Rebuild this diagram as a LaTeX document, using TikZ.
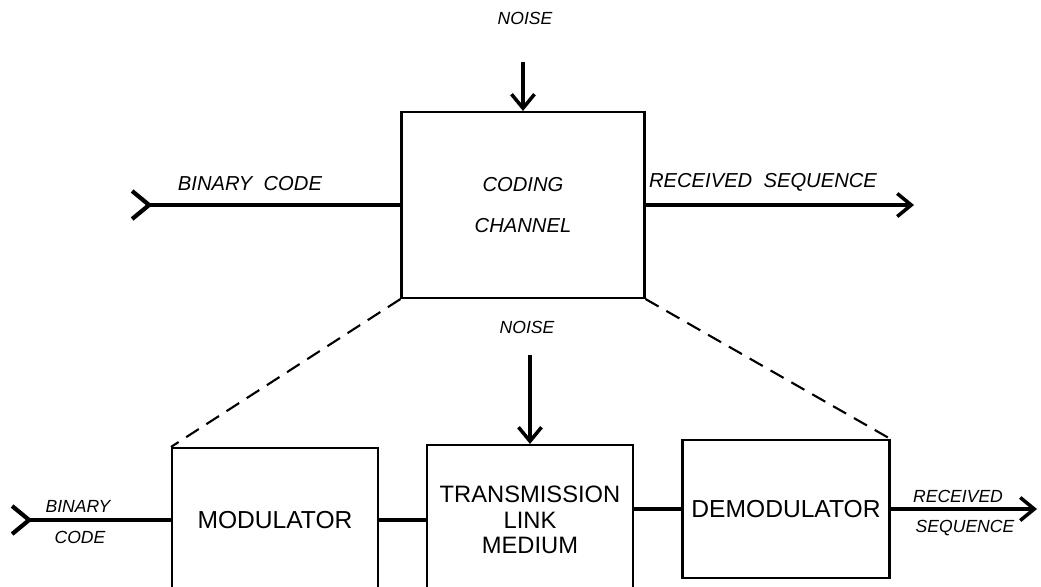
\documentclass[tikz,border=0pt]{standalone}
\usepackage{fontspec}
\setsansfont{Liberation Sans}
\usetikzlibrary{arrows.meta, positioning}

\begin{document}
\begin{tikzpicture}[x=0.02cm, y=-0.02cm,
    blk/.style={draw, line width=1.2pt, align=center, inner sep=2pt,
        font=\sffamily\fontsize{14}{16}\selectfont},
    hand/.style={font=\sffamily\itshape\fontsize{11.5}{14}\selectfont},
    handsm/.style={font=\sffamily\itshape\fontsize{10}{12}\selectfont},
    sig/.style={line width=2.4pt},
    outarr/.style={-{Straight Barb[length=2.8mm, width=4.6mm, line width=2pt]}},
    inarr/.style={{Straight Barb[reversed, length=3.4mm, width=5.6mm, line width=2.4pt]}-}]
    \useasboundingbox (0,0) rectangle (1041,586);

    % coding channel
    \node[blk, minimum width=4.86cm, minimum height=3.72cm,
        font=\sffamily\itshape\fontsize{11.5}{23}\selectfont] (chan) at (523,205) {CODING\\CHANNEL};
    \node[handsm] (noise1) at (525,18) {NOISE};
    \coordinate (n1) at (523,62);
    \draw[line width=1.8pt, outarr] (n1) -- (chan.north);

    \coordinate (in1) at (130,205);
    \coordinate (out1) at (914,205);
    \draw[sig, inarr] (in1) -- (chan.west);
    \draw[sig, outarr] (chan.east) -- (out1);
    \node[hand] (bincode) at (250,184) {BINARY\ \ CODE};
    \node[hand] (recseq) at (763,182) {RECEIVED\ \ SEQUENCE};

    % inside the channel
    \node[blk, minimum width=4.12cm, minimum height=2.88cm] (mod) at (275,520) {MODULATOR};
    \node[blk, minimum width=4.12cm, minimum height=3.0cm,
        font=\sffamily\fontsize{13.5}{14.5}\selectfont] (trans) at (530,520) {TRANSMISSION\\LINK\\MEDIUM};
    \node[blk, minimum width=4.14cm, minimum height=2.76cm] (demod) at (786,509) {DEMODULATOR};

    \draw[line width=1.2pt, dash pattern=on 0.3cm off 0.18cm] (chan.south west) -- (mod.north west);
    \draw[line width=1.2pt, dash pattern=on 0.3cm off 0.18cm] (chan.south east) -- (demod.north east);

    \node[handsm] (noise2) at (527,327) {NOISE};
    \coordinate (n2) at (530,355);
    \draw[line width=1.8pt, outarr] (n2) -- (trans.north);

    \coordinate (in2) at (10,520);
    \coordinate (out2) at (1037,509);
    \draw[sig, inarr] (in2) -- (in2 -| mod.west);
    \draw[sig] (mod.east) -- (mod.east -| trans.west);
    \draw[sig] (demod.west -| trans.east) -- (demod.west);
    \draw[sig, outarr] (demod.east) -- (out2);

    \node[handsm] (bin2) at (78,506) {BINARY};
    \node[handsm] (code2) at (80,537) {CODE};
    \node[handsm] (rec2) at (958,496) {RECEIVED};
    \node[handsm] (seq2) at (965,528) {SEQUENCE};
\end{tikzpicture}
\end{document}
